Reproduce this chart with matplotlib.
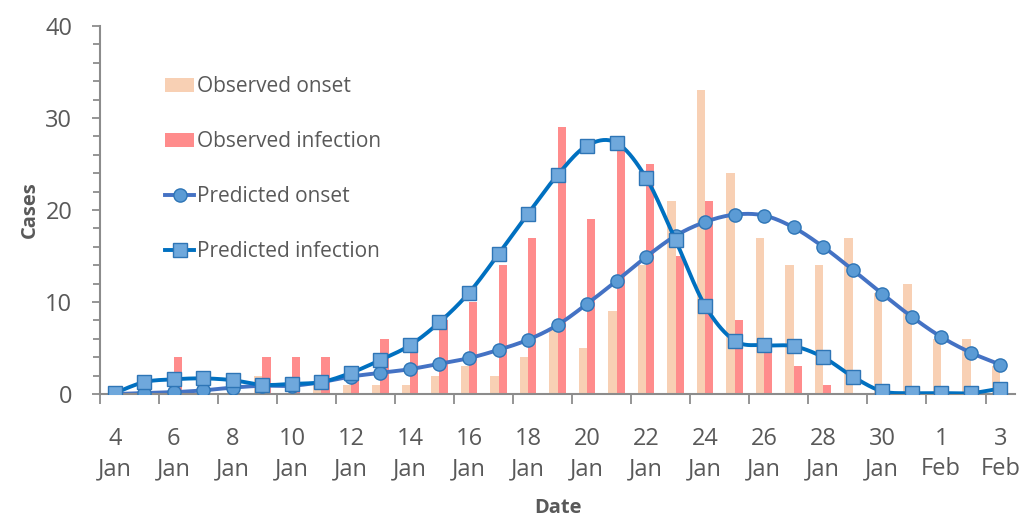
import numpy as np
import matplotlib.pyplot as plt
from matplotlib.ticker import MultipleLocator, FixedLocator

# -------------------------------
# DATA
# -------------------------------

day_labels = ["4\nJan", "5\nJan", "6\nJan", "7\nJan", "8\nJan", "9\nJan", "10\nJan", "11\nJan",
              "12\nJan", "13\nJan", "14\nJan", "15\nJan", "16\nJan", "17\nJan", "18\nJan", "19\nJan",
              "20\nJan", "21\nJan", "22\nJan", "23\nJan", "24\nJan", "25\nJan", "26\nJan", "27\nJan",
              "28\nJan", "29\nJan", "30\nJan", "31\nJan", "1\nFeb", "2\nFeb", "3\nFeb"]

observed_onset = [0, 0, 0, 0, 0, 2, 0, 1, 1, 1, 1, 2, 3, 2, 4, 7,
                  5, 9, 14, 21, 33, 24, 17, 14, 14, 17, 11, 12, 6, 6, 3]
observed_infection = [0, 0, 4, 0, 0, 4, 4, 4, 3, 6, 5, 8, 10, 14, 17, 29,
                      19, 27, 25, 15, 21, 8, 5, 3, 1, 0, 0, 0, 0, 0, 0]
predicted_onset = [0, 0.1, 0.2, 0.4, 0.7, 0.9, 0.9, 1.3, 1.9, 2.3, 2.7, 3.3, 3.9, 4.8, 5.9, 7.5,
                   9.8, 12.3, 14.9, 17.2, 18.7, 19.5, 19.4, 18.1, 16.0, 13.5, 10.9, 8.4, 6.2, 4.5, 3.2]
predicted_infection = [0.1, 1.3, 1.6, 1.7, 1.5, 1.0, 1.1, 1.3, 2.3, 3.7, 5.3, 7.8, 11.0, 15.2, 19.6, 23.8,
                       27.0, 27.3, 23.5, 16.7, 9.6, 5.8, 5.3, 5.2, 4.0, 1.9, 0.3, 0.1, 0.1, 0.1, 0.6]

text_color = "#595959"
axis_color = "#8C8C8C"


def smooth(xs, ys, n=20):
    # catmull-rom curve through the points, like Excel's smoothed line
    xs = np.asarray(xs, float)
    ys = np.asarray(ys, float)
    px = np.concatenate([[xs[0]], xs, [xs[-1]]])
    py = np.concatenate([[ys[0]], ys, [ys[-1]]])
    out_x, out_y = [], []
    t = np.linspace(0, 1, n, endpoint=False)
    for i in range(1, len(px) - 2):
        for p, out in ((px, out_x), (py, out_y)):
            p0, p1, p2, p3 = p[i - 1], p[i], p[i + 1], p[i + 2]
            seg = 0.5 * (2 * p1 + (-p0 + p2) * t + (2 * p0 - 5 * p1 + 4 * p2 - p3) * t ** 2
                         + (-p0 + 3 * p1 - 3 * p2 + p3) * t ** 3)
            out.extend(seg)
    out_x.append(xs[-1])
    out_y.append(ys[-1])
    return np.array(out_x), np.array(out_y)


plt.rcParams['font.family'] = ['Open Sans', 'DejaVu Sans']

fig = plt.figure(figsize=(10.23, 5.19), dpi=100)
ax = fig.add_axes([0.0978, 0.2408, 0.8944, 0.7091])

x = np.arange(len(day_labels))
w = 0.28

b1 = ax.bar(x - w, observed_onset, width=w, align='edge', color="#F8D0B4", label="Observed onset", zorder=1)
b2 = ax.bar(x, observed_infection, width=w, align='edge', color="#FF8C8C", label="Observed infection", zorder=1)

sx, sy = smooth(x, predicted_onset)
ax.plot(sx, sy, color="#4472C4", lw=2.8, zorder=2)
ax.plot(x, predicted_onset, ls='none', marker='o', ms=9.5, mfc="#5B9BD5", mec="#2E75B6", mew=1, zorder=3)

sx, sy = smooth(x, predicted_infection)
ax.plot(sx, sy, color="#0070C0", lw=2.8, zorder=4)
ax.plot(x, predicted_infection, ls='none', marker='s', ms=9.5, mfc="#6FA8DC", mec="#2E75B6", mew=1, zorder=5)

# legend proxies
l1, = ax.plot([], [], color="#4472C4", lw=2.8, marker='o', ms=9.5, mfc="#5B9BD5", mec="#2E75B6",
              label="Predicted onset")
l2, = ax.plot([], [], color="#0070C0", lw=2.8, marker='s', ms=9.5, mfc="#6FA8DC", mec="#2E75B6",
              label="Predicted infection")

ax.set_xlim(-0.5, 30.5)
ax.set_ylim(0, 40)

ax.xaxis.set_major_locator(FixedLocator(np.arange(-0.5, 30.6, 2)))
ax.xaxis.set_minor_locator(FixedLocator(x[::2]))
ax.set_xticklabels([])
ax.set_xticklabels([day_labels[i] for i in x[::2]], minor=True)
ax.tick_params(axis='x', which='major', length=7, width=1.3, color=axis_color, direction='out')
ax.tick_params(axis='x', which='minor', length=0, pad=24, labelsize=17, labelcolor=text_color)
for lbl in ax.get_xticklabels(minor=True):
    lbl.set_linespacing(1.33)

ax.yaxis.set_major_locator(MultipleLocator(10))
ax.yaxis.set_minor_locator(MultipleLocator(2))
ax.tick_params(axis='y', which='major', length=6, width=1.3, color=axis_color, labelsize=17,
               labelcolor=text_color, pad=14)
ax.tick_params(axis='y', which='minor', length=5, width=1.3, color=axis_color)

for s in ['top', 'right']:
    ax.spines[s].set_visible(False)
for s in ['left', 'bottom']:
    ax.spines[s].set_color(axis_color)
    ax.spines[s].set_linewidth(1.5)

ax.set_ylabel("Cases", fontsize=14.5, fontweight='bold', color=text_color, labelpad=4)
ax.set_xlabel("Date", fontsize=14.5, fontweight='bold', color=text_color, labelpad=12)

ax.legend(handles=[b1, b2, l1, l2], loc='upper left', bbox_to_anchor=(0.071, 0.863),
          frameon=False, fontsize=15, labelcolor=text_color, labelspacing=1.63,
          handlelength=1.4, handletextpad=0.15, handleheight=0.7, borderpad=0, borderaxespad=0)

fig.savefig("out.png", dpi=100)
